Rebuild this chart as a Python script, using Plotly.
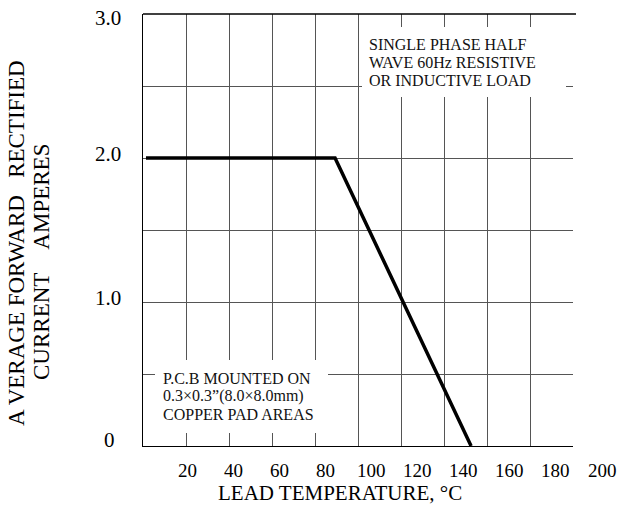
import plotly.graph_objects as go

# ---- data ----
lead_temp_c = [2.2, 84.2, 143.2]
avg_current_a = [2.0, 2.0, 0.0]

x_tick_labels = [20, 40, 60, 80, 100, 120, 140, 160, 180, 200]
y_tick_values = [0, 1.0, 2.0, 3.0]
y_tick_text = ["0", "1.0", "2.0", "3.0"]

note_top = ["SINGLE PHASE HALF", "WAVE 60Hz RESISTIVE", "OR INDUCTIVE LOAD"]
note_bottom = ["P.C.B MOUNTED ON", "0.3\u00d70.3\u201d(8.0\u00d78.0mm)", "COPPER PAD AREAS"]
y_title_lines = ["A VERAGE FORWARD\u00a0\u00a0\u00a0RECTIFIED", "CURRENT\u00a0\u00a0\u00a0\u00a0AMPERES"]
x_title = "LEAD TEMPERATURE, \u00b0C"

# ---- geometry (style) ----
W, H = 619, 510
L, R, T, B = 143, 573, 14, 446
X_MIN, X_MAX = 0.91, 187.4
grid_x = [X_MIN + 18.65 * k for k in range(1, 11)]
FONT = "Liberation Serif"


def px_x(p):
    return (p - L) / (R - L)


def px_y(p):
    return (B - p) / (B - T)


def data_to_paper_x(v):
    return (v - X_MIN) / (X_MAX - X_MIN)


fig = go.Figure()
fig.add_trace(go.Scatter(
    x=lead_temp_c, y=avg_current_a, mode="lines",
    line=dict(color="black", width=3.5), hoverinfo="skip", showlegend=False,
))

annotations = []
# x tick labels (they run past the plot edge like the original)
for v in x_tick_labels:
    annotations.append(dict(
        x=data_to_paper_x(v), xref="paper", xanchor="center",
        y=0, yref="paper", yanchor="middle", yshift=-24,
        text=str(v), showarrow=False, font=dict(family=FONT, size=19, color="black"),
    ))
# y tick labels
for v, t in zip(y_tick_values, y_tick_text):
    annotations.append(dict(
        x=0, xref="paper", xanchor="right", xshift=(-26 if t == "0" else -20),
        y=v, yref="y", yanchor="middle",
        yshift=(-4 if t == "3.0" else (6 if t == "0" else 4)),
        text=t, showarrow=False, font=dict(family=FONT, size=21, color="black"),
    ))
# axis titles
annotations.append(dict(
    x=px_x(340), xref="paper", xanchor="center", y=px_y(493), yref="paper", yanchor="middle",
    text=x_title, showarrow=False, font=dict(family=FONT, size=21, color="black"),
))
for txt, cx, cy in zip(y_title_lines, [16, 41], [243, 262]):
    annotations.append(dict(
        x=px_x(cx), xref="paper", y=px_y(cy), yref="paper", textangle=-90,
        xanchor="center", yanchor="middle",
        text=txt, showarrow=False, font=dict(family=FONT, size=23, color="black"),
    ))
# notes
for txt, cy in zip(note_top, [44.5, 62.5, 80.5]):
    annotations.append(dict(
        x=px_x(367), xref="paper", xanchor="left", y=px_y(cy), yref="paper", yanchor="middle",
        text=txt, showarrow=False, font=dict(family=FONT, size=16, color="#111"),
    ))
for txt, cy in zip(note_bottom, [378, 396, 414]):
    annotations.append(dict(
        x=px_x(161), xref="paper", xanchor="left", y=px_y(cy), yref="paper", yanchor="middle",
        text=txt, showarrow=False, font=dict(family=FONT, size=16, color="#111"),
    ))

shapes = [
    dict(type="rect", xref="paper", yref="paper", x0=px_x(362), x1=px_x(566),
         y0=px_y(97), y1=px_y(27), fillcolor="white", line=dict(width=0), layer="above"),
    dict(type="rect", xref="paper", yref="paper", x0=px_x(155), x1=px_x(328),
         y0=px_y(433), y1=px_y(360), fillcolor="white", line=dict(width=0), layer="above"),
    dict(type="line", xref="paper", yref="paper", x0=0, x1=px_x(576), y0=1, y1=1,
         line=dict(color="black", width=1.3), layer="above"),
]

fig.update_layout(
    width=W, height=H,
    margin=dict(l=L, r=W - R, t=T, b=H - B, pad=0),
    paper_bgcolor="white", plot_bgcolor="white",
    showlegend=False,
    annotations=annotations, shapes=shapes,
    xaxis=dict(range=[X_MIN, X_MAX], tickvals=grid_x, showticklabels=False, ticks="",
               showgrid=True, gridcolor="#555", gridwidth=1, zeroline=False,
               showline=True, linecolor="black", linewidth=1.3, fixedrange=True),
    yaxis=dict(range=[0, 3], dtick=0.5, showticklabels=False, ticks="",
               showgrid=True, gridcolor="#555", gridwidth=1, zeroline=False,
               showline=True, linecolor="black", linewidth=1.3, fixedrange=True),
)

fig.write_html(
    "out.html",
    config={"displayModeBar": False},
    post_script="document.body.style.margin='0';document.body.style.overflow='hidden';",
)
